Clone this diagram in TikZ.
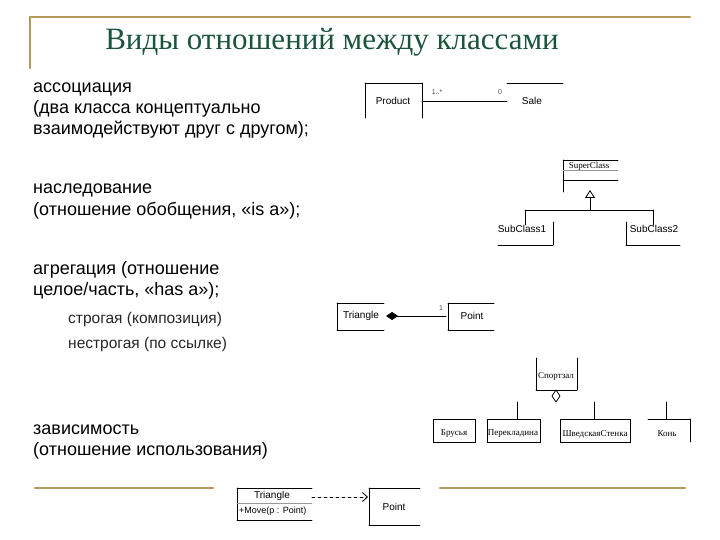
\documentclass[tikz,border=0pt]{standalone}
\usepackage{fontspec}
\setmainfont{Liberation Serif}
\setsansfont{Liberation Sans}
\usepackage{tikz}
\usetikzlibrary{arrows.meta}
\usepackage{tkz-euclide}
\usepackage{xcolor}
\definecolor{rulegold}{RGB}{181,153,88}
\definecolor{titlegreen}{RGB}{26,84,58}
\tikzset{
  goldrule/.style={rulegold, line width=2.6pt},
  umlline/.style={black, line width=0.8pt},
  titletext/.style={anchor=base, inner sep=0pt, text=titlegreen, font=\fontsize{31}{36}\selectfont},
  bodytext/.style={anchor=base west, inner sep=0pt, align=left, font=\sffamily\fontsize{18}{21}\selectfont},
  subtext/.style={anchor=base west, inner sep=0pt, align=left, text=black!85, font=\sffamily\fontsize{15.5}{25}\selectfont},
  umlsans/.style={inner sep=0pt, font=\sffamily\fontsize{10}{11}\selectfont},
  umlserif/.style={inner sep=0pt, font=\fontsize{9}{10}\selectfont},
  umlsmall/.style={inner sep=0pt, text=black!70, font=\sffamily\fontsize{7}{8}\selectfont}
}
\begin{document}
\begin{tikzpicture}[x=1pt,y=-1pt]
            \useasboundingbox (0,0) rectangle (720,540);
            \tkzDefPoints{30/17/Ta, 690/17/Tb, 30/68/Tc, 35/488/Ba, 213/488/Bb, 440/488/Bc, 685/488/Bd}
            \tkzDrawSegments[goldrule](Ta,Tb Ta,Tc Ba,Bb Bc,Bd)
            \node[titletext] (title) at (332,50) {Виды отношений между классами};
            \node[bodytext] (assoc) at (33,135) {ассоциация\\(два класса концептуально\\взаимодействуют друг с другом);};
            \node[bodytext] (inherit) at (33,215) {наследование\\(отношение обобщения, «is a»);};
            \node[bodytext] (aggreg) at (33,295) {агрегация (отношение\\целое/часть, «has a»);};
            \node[subtext] (strict) at (68,348) {строгая (композиция)\\нестрогая (по ссылке)};
            \node[bodytext] (depend) at (33,455) {зависимость\\(отношение использования)};
            \tkzDefPoints{365/83/Pa, 422/83/Pb, 365/118/Pc, 422/118/Pd, 422/101/Ae, 507/101/Se, 507/83/Sa, 563/83/Sb}
            \tkzDrawSegments[umlline](Pc,Pa Pa,Pb Pb,Pd Ae,Se Sa,Sb)
            \node[umlsans] (product) at (393,101) {Product};
            \node[umlsans] (sale) at (532,101) {Sale};
            \node[umlsmall] (multa) at (437,92) {1..*};
            \node[umlsmall] (multb) at (500,92) {0};
            \tkzDefPoints{563/160/Ua, 618/160/Ub, 563/192/Uc, 563/170/Ud, 618/170/Ue, 563/180/Uf, 618/180/Ug}
            \tkzDrawSegments[umlline](Ua,Ub Ua,Uc Uf,Ug)
            \tkzDrawSegments[black!40, line width=0.6pt](Ud,Ue)
            \node[umlserif] (super) at (589,166) {SuperClass};
            \tkzDefPoints{590/190/Ia, 590/210/Ib, 525/210/Ic, 653/210/Id, 525/225/Ie, 653/225/If}
            \tkzDrawSegment[umlline, -{Triangle[open, length=8pt, width=10pt]}](Ib,Ia)
            \tkzDrawSegments[umlline](Ic,Id Ic,Ie Id,If)
            \tkzDefPoints{553/222/Va, 553/245/Vb, 498/245/Vc, 626/222/Wa, 626/245/Wb, 680/245/Wc}
            \tkzDrawSegments[umlline](Va,Vb Vb,Vc Wa,Wb Wb,Wc)
            \node[umlsans] (subone) at (522,229) {SubClass1};
            \node[umlsans] (subtwo) at (654,229) {SubClass2};
            \tkzDefPoints{337/303/Ca, 384/303/Cb, 337/330/Cc, 384/330/Cd, 386/316/Ce, 446/316/Cf, 448/303/Da, 494/303/Db, 448/330/Dc, 494/330/Dd}
            \tkzDrawSegments[umlline](Ca,Cb Ca,Cc Cc,Cd Da,Db Da,Dc Dc,Dd)
            \tkzDrawSegment[umlline, {Diamond[length=12pt, width=8pt]}-](Ce,Cf)
            \node[umlsans] (tri) at (361,316) {Triangle};
            \node[umlsans] (pnt) at (472,316) {Point};
            \node[umlsmall] (one) at (441,308) {1};
            \tkzDefPoints{536/358/Ga, 577/358/Gb, 536/390/Gc, 577/390/Gd, 556/390/Ka, 560/396/Kb, 556/402/Kc, 552/396/Kd}
            \tkzDrawSegments[umlline](Ga,Gc Gc,Gd Gb,Gd)
            \tkzDrawPolygon[umlline](Ka,Kb,Kc,Kd)
            \node[umlserif] (gym) at (556,376) {Спортзал};
            \tkzDefPoints{517/402/La, 517/419/Lb, 594/402/Ma, 594/419/Mb, 666/402/Na, 666/419/Nb}
            \tkzDrawSegments[umlline](La,Lb Ma,Mb Na,Nb)
            \draw[umlline] (433,419) rectangle (475,442);
            \draw[umlline] (487,419) rectangle (540,442);
            \draw[umlline] (560,419) rectangle (630,442);
            \tkzDefPoints{648/419/Ra, 690/419/Rb, 690/442/Rc}
            \tkzDrawSegments[umlline](Ra,Rb Rb,Rc)
            \node[umlserif] (bars) at (454,434) {Брусья};
            \node[umlserif] (beam) at (513,434) {Перекладина};
            \node[umlserif] (wall) at (595,434) {ШведскаяСтенка};
            \node[umlserif] (horse) at (667,434) {Конь};
            \tkzDefPoints{237/488/Ea, 312/488/Eb, 237/520/Ec, 312/520/Ed, 237/503/Ee, 312/503/Ef, 312/497/Eg, 368/497/Eh, 369/488/Fa, 420/488/Fb, 369/525/Fc, 420/525/Fd}
            \tkzDrawSegments[umlline](Ea,Eb Ea,Ec Ec,Ed Fa,Fb Fa,Fc Fc,Fd)
            \tkzDrawSegments[black!40, line width=0.6pt](Ee,Ef)
            \tkzDrawSegment[umlline, dashed, -{Straight Barb[length=5pt, width=9pt]}](Eg,Eh)
            \node[umlsans] (tritwo) at (272,496) {Triangle};
            \node[umlsans, anchor=west, font=\sffamily\fontsize{9}{10}\selectfont] (move) at (239,511) {+Move(p : Point)};
            \node[umlsans] (pnttwo) at (394,507) {Point};
        \end{tikzpicture}
\end{document}
